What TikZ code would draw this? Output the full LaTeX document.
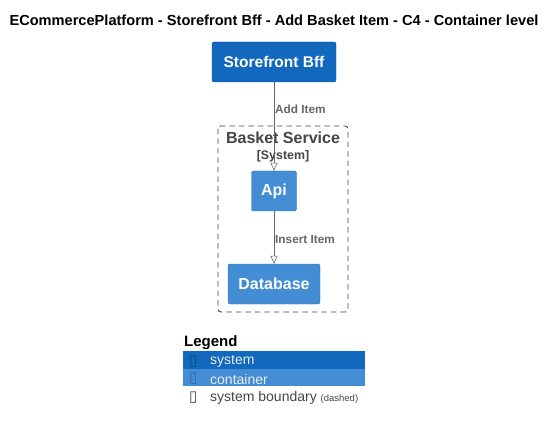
\documentclass[tikz,border=0pt]{standalone}
\usepackage{fontspec}
\setmainfont{Liberation Sans}
\newfontfamily\symfont{DejaVu Sans}
\usepackage{xcolor}
\usepackage{tikz}
\definecolor{sysblue}{HTML}{1168BD}
\definecolor{contblue}{HTML}{438DD5}
\definecolor{relgrey}{HTML}{666666}
\definecolor{bndgrey}{HTML}{444444}
\tikzstyle{system} = [rectangle, fill=sysblue, draw=sysblue!80!black, line width=0.4pt,
    text=white, font=\fontsize{15.5}{17}\selectfont\bfseries, rounded corners=2pt, inner sep=0pt]
\tikzstyle{container} = [rectangle, fill=contblue, draw=contblue!85!black, line width=0.4pt,
    text=white, font=\fontsize{16}{18}\selectfont\bfseries, rounded corners=2pt, inner sep=0pt]
\tikzstyle{rel} = [draw=relgrey, line width=0.6pt, -{Triangle[open, length=8pt, width=7pt]}]
\tikzstyle{rellabel} = [text=relgrey, font=\fontsize{11.8}{13}\selectfont\bfseries, anchor=west, inner sep=1pt]
\tikzstyle{legendrow} = [rectangle, minimum width=182pt, minimum height=17.5pt, inner sep=0pt, anchor=north west]
\tikzstyle{legendtext} = [anchor=west, font=\fontsize{14}{16}\selectfont, inner sep=0pt]
\tikzstyle{legendicon} = [anchor=west, font=\symfont\fontsize{15}{16}\selectfont, inner sep=0pt]
\usetikzlibrary{arrows.meta}
\usetikzlibrary{positioning}

\begin{document}
\begin{tikzpicture}[x=1pt, y=-1pt]
    \useasboundingbox (0,0) rectangle (556,430);

    \node[font=\fontsize{14.6}{16}\selectfont\bfseries] (title) at (274,20) {ECommercePlatform - Storefront Bff - Add Basket Item - C4 - Container level};

    \node[system, minimum width=124pt, minimum height=40pt] (bff) at (274,62) {Storefront Bff};

    % basket service boundary
    \draw[bndgrey, dashed, dash pattern=on 5.5pt off 4pt, line width=0.9pt, rounded corners=3pt] (218,126) rectangle (348,312);
    \node[text=bndgrey, font=\fontsize{16}{18}\selectfont\bfseries] (bname) at (283,138) {Basket Service};
    \node[text=bndgrey, font=\fontsize{12.4}{14}\selectfont\bfseries, below=0pt of bname] (btype) {[System]};

    \node[container, minimum width=45pt, minimum height=40pt] (api) at (274,191) {Api};
    \node[container, minimum width=92pt, minimum height=40pt] (db) at (274,284) {Database};

    \draw[rel] (bff) -- (api);
    \node[rellabel] (additem) at (274,109) {Add Item};
    \draw[rel] (api) -- (db);
    \node[rellabel] (insertitem) at (274,239) {Insert Item};

    % legend
    \node[anchor=west, font=\fontsize{15}{17}\selectfont\bfseries, inner sep=0pt] (legend) at (184,343) {Legend};
    \node[legendrow, fill=sysblue] (lsys) at (183,351) {};
    \node[legendrow, fill=contblue] (lcont) at (183,368.5) {};
    \node[legendicon, text=sysblue!70!black] (isys) at (189,361.5) {▯};
    \node[legendtext, text=white!92!black] (tsys) at (210,361.5) {system};
    \node[legendicon, text=contblue!75!black] (icont) at (189,379) {▯};
    \node[legendtext, text=white!92!black] (tcont) at (210,379) {container};
    \node[legendicon, text=bndgrey] (ibnd) at (189,397.5) {▯};
    \node[legendtext, text=bndgrey] (tbnd) at (210,397.5) {system boundary {\fontsize{9.5}{11}\selectfont (dashed)}};
  \end{tikzpicture}
\end{document}
